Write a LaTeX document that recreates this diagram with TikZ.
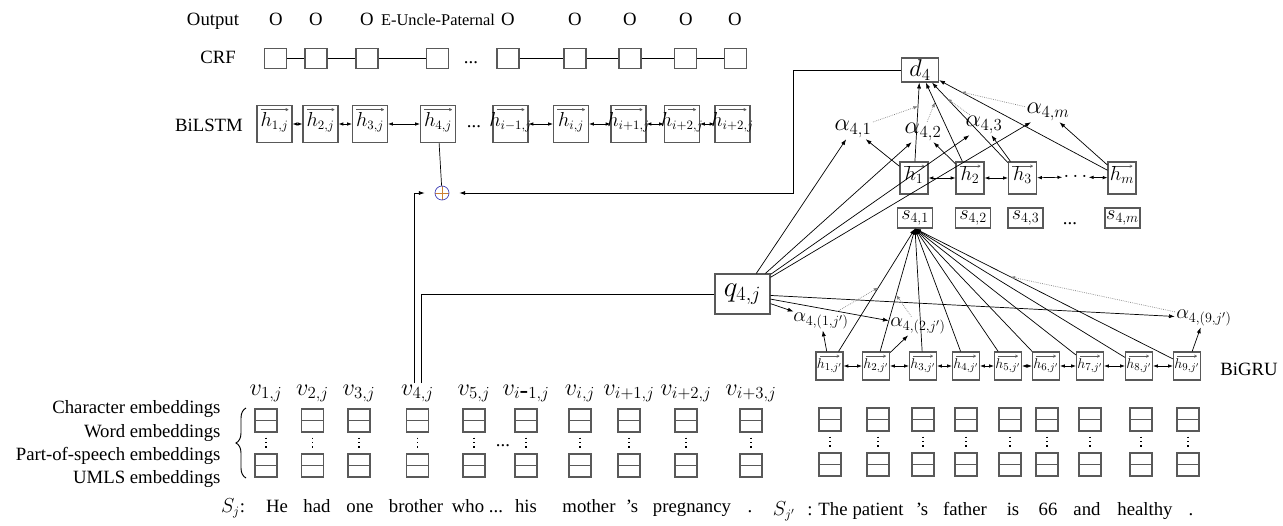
\documentclass[tikz,border=0pt]{standalone}
\usepackage{fontspec}
\setmainfont{Liberation Serif}
\usetikzlibrary{arrows.meta,decorations.pathreplacing}

\newcommand{\vh}[1]{\raisebox{-2pt}[0pt][0pt]{\makebox[0pt]{$h_{#1}$}}}

\tikzstyle{lbl}=[font=\fontsize{16}{19}\selectfont, inner sep=1pt]
\tikzstyle{mlbl}=[font=\fontsize{20}{24}\selectfont, inner sep=1pt]
\tikzstyle{crfbox}=[rectangle,
    line width=1pt,
    minimum width=0.66cm,
    minimum height=0.6cm,
    draw=gray!70!black]
\tikzstyle{lstmbox}=[rectangle,
    line width=1pt,
    inner sep=0pt,
    minimum width=1.05cm,
    minimum height=1.11cm,
    draw=gray!70!black,
    font=\fontsize{16}{19}\selectfont,
    path picture={\draw[-{To[length=2.5pt,width=2.5pt]}, line width=0.5pt]
        ([xshift=3pt,yshift=-3.5pt]path picture bounding box.north west) --
        ([xshift=-3pt,yshift=-3.5pt]path picture bounding box.north east);}]
\tikzstyle{sentbox}=[lstmbox, minimum width=0.84cm, minimum height=0.96cm,
    font=\fontsize{17}{20}\selectfont]
\tikzstyle{grubox}=[lstmbox, minimum width=0.81cm, minimum height=0.84cm,
    font=\fontsize{13}{15}\selectfont]
\tikzstyle{vbox}=[rectangle,
    line width=1pt,
    inner sep=0pt,
    minimum width=1.05cm,
    minimum height=0.6cm,
    draw=gray!70!black,
    font=\fontsize{18}{21}\selectfont]
\tikzstyle{embbox}=[rectangle,
    line width=1pt,
    minimum width=0.66cm,
    minimum height=0.69cm,
    draw=gray!70!black,
    path picture={\draw[gray!70!black, line width=1pt]
        (path picture bounding box.west) -- (path picture bounding box.east);}]
\tikzstyle{arr}=[-{Latex[length=5pt,width=3.5pt]}]
\tikzstyle{dbl}=[{Latex[length=4pt,width=3pt]}-{Latex[length=4pt,width=3pt]}]
\tikzstyle{dotarr}=[densely dotted, gray, -{Latex[length=4pt,width=3pt]}]
\tikzstyle{vdots}=[line width=1.2pt, dash pattern=on 1.2pt off 2.6pt,
    shorten <=0.15cm, shorten >=0.15cm]

\begin{document}
\begin{tikzpicture}[x=0.03cm, y=-0.03cm, line width=0.6pt]
\useasboundingbox (0,0) rectangle (1283,525);

% output row
\node (outlbl) [lbl, anchor=base] at (213,25) {Output};
\node (out1) [lbl, anchor=base] at (276,25) {O};
\node (out2) [lbl, anchor=base] at (316,25) {O};
\node (out3) [lbl, anchor=base] at (367,25) {O};
\node (out4) [lbl, anchor=base, font=\fontsize{14}{17}\selectfont] at (438,25) {E-Uncle-Paternal};
\node (out5) [lbl, anchor=base] at (508,25) {O};
\node (out6) [lbl, anchor=base] at (575,25) {O};
\node (out7) [lbl, anchor=base] at (630,25) {O};
\node (out8) [lbl, anchor=base] at (686,25) {O};
\node (out9) [lbl, anchor=base] at (735,25) {O};

% CRF row
\node (crflbl) [lbl, anchor=base] at (218,63) {CRF};
\node (crf1) [crfbox] at (275.5,58.5) {};
\node (crf2) [crfbox] at (316,58.5) {};
\node (crf3) [crfbox] at (367,58.5) {};
\node (crf4) [crfbox] at (437.5,58.5) {};
\node (crfdots) [lbl, anchor=base] at (471,63) {...};
\node (crf5) [crfbox] at (508,58.5) {};
\node (crf6) [crfbox] at (575,58.5) {};
\node (crf7) [crfbox] at (630,58.5) {};
\node (crf8) [crfbox] at (685.5,58.5) {};
\node (crf9) [crfbox] at (735.5,58.5) {};
\draw (crf1) -- (crf2);
\draw (crf2) -- (crf3);
\draw (crf3) -- (crf4);
\draw (crf5) -- (crf6);
\draw (crf6) -- (crf7);
\draw (crf7) -- (crf8);
\draw (crf8) -- (crf9);

% BiLSTM row
\node (lstmlbl) [lbl, anchor=base] at (209,131) {BiLSTM};
\node (lstm1) [lstmbox] at (274.5,124) {\vh{1,j}};
\node (lstm2) [lstmbox] at (320.5,124) {\vh{2,j}};
\node (lstm3) [lstmbox] at (370,124) {\vh{3,j}};
\node (lstm4) [lstmbox] at (438,124) {\vh{4,j}};
\node (lstmdots) [lbl, anchor=base] at (474,127) {...};
\node (lstm5) [lstmbox] at (510.5,124) {\vh{i-1,j}};
\node (lstm6) [lstmbox] at (571,124) {\vh{i,j}};
\node (lstm7) [lstmbox] at (628.5,124) {\vh{i+1,j}};
\node (lstm8) [lstmbox] at (682,124) {\vh{i+2,j}};
\node (lstm9) [lstmbox] at (732.5,124) {\vh{i+2,j}};
\draw [dbl] (lstm1) -- (lstm2);
\draw [dbl] (lstm2) -- (lstm3);
\draw [dbl] (lstm3) -- (lstm4);
\draw [dbl] (lstm5) -- (lstm6);
\draw [dbl] (lstm6) -- (lstm7);
\draw [dbl] (lstm7) -- (lstm8);
\draw [dbl] (lstm8) -- (lstm9);

% concatenation
\node (plus) [circle, draw=blue!45!gray, inner sep=0pt, minimum size=0.42cm,
    path picture={\draw[orange!60!gray]
        (path picture bounding box.north) -- (path picture bounding box.south)
        (path picture bounding box.west) -- (path picture bounding box.east);}] at (442,193) {};
\draw (lstm4) -- (plus);

% sentence level attention
\node (d4) [vbox, minimum width=1.11cm, minimum height=0.72cm,
    font=\fontsize{20}{24}\selectfont] at (920,70) {$d_4$};
\coordinate (dturn) at (793,70);
\draw [arr, shorten >=0.3cm] (d4.west) -- (dturn) |- (plus.east);

\node (sh1) [sentbox] at (914,178) {\vh{1}};
\node (sh2) [sentbox] at (970,178) {\vh{2}};
\node (sh3) [sentbox] at (1022.5,178) {\vh{3}};
\node (shdots) [mlbl, font=\fontsize{17}{20}\selectfont] at (1075.5,177) {$\cdots$};
\node (shm) [sentbox] at (1122,178) {\vh{m}};
\draw [dbl] (sh1) -- (sh2);
\draw [dbl] (sh2) -- (sh3);
\draw [dbl] (sh3) -- (shdots);
\draw [dbl] (shdots) -- (shm);

\node (s1) [vbox] at (915,218) {$s_{4,1}$};
\node (s2) [vbox] at (973,218) {$s_{4,2}$};
\node (s3) [vbox] at (1025.5,218) {$s_{4,3}$};
\node (sdots) [lbl, anchor=base] at (1070,224) {...};
\node (sm) [vbox] at (1122.5,218) {$s_{4,m}$};

\node (a1) [mlbl] at (853,129) {$\alpha_{4,1}$};
\node (a2) [mlbl] at (923,132) {$\alpha_{4,2}$};
\node (a3) [mlbl] at (984,125) {$\alpha_{4,3}$};
\node (am) [mlbl] at (1048,112) {$\alpha_{4,m}$};

\draw [arr] (sh1) -- (d4) coordinate[pos=0.7] (w1);
\draw [arr] (sh2) -- (d4) coordinate[pos=0.75] (w2);
\draw [arr] (sh3) -- (d4) coordinate[pos=0.8] (w3);
\draw [arr] (shm) -- (d4) coordinate[pos=0.87] (wm);
\draw [arr] (sh1) -- (a1);
\draw [arr] (sh2) -- (a2);
\draw [arr] (sh3) -- (a3);
\draw [arr] (shm) -- (am);
\draw [dotarr] (a1) -- (w1);
\draw [dotarr] (a2) -- (w2);
\draw [dotarr] (a3) -- (w3);
\draw [dotarr] (am) -- (wm);

% query
\node (q4) [vbox, minimum width=1.65cm, minimum height=1.2cm,
    font=\fontsize{24}{28}\selectfont] at (742.5,294) {$q_{4,j}$};
\draw [arr] (q4) -- (a1);
\draw [arr] (q4) -- (a2);
\draw [arr] (q4) -- (a3);
\draw [arr] (q4) -- (am);

% word level attention (BiGRU)
\node (grulbl) [lbl, anchor=base] at (1249,375) {BiGRU};
\node (g1) [grubox] at (829.5,366) {\vh{1,j'}};
\node (g2) [grubox] at (876,366) {\vh{2,j'}};
\node (g3) [grubox] at (923,366) {\vh{3,j'}};
\node (g4) [grubox] at (966,366) {\vh{4,j'}};
\node (g5) [grubox] at (1008,366) {\vh{5,j'}};
\node (g6) [grubox] at (1046,366) {\vh{6,j'}};
\node (g7) [grubox] at (1090,366) {\vh{7,j'}};
\node (g8) [grubox] at (1139,366) {\vh{8,j'}};
\node (g9) [grubox] at (1187,366) {\vh{9,j'}};
\draw [dbl] (g1) -- (g2);
\draw [dbl] (g2) -- (g3);
\draw [dbl] (g3) -- (g4);
\draw [dbl] (g4) -- (g5);
\draw [dbl] (g5) -- (g6);
\draw [dbl] (g6) -- (g7);
\draw [dbl] (g7) -- (g8);
\draw [dbl] (g8) -- (g9);

\node (b1) [mlbl, font=\fontsize{18}{21}\selectfont] at (821,321) {$\alpha_{4,(1,j')}$};
\node (b2) [mlbl, font=\fontsize{18}{21}\selectfont] at (918,326) {$\alpha_{4,(2,j')}$};
\node (b9) [mlbl, font=\fontsize{18}{21}\selectfont] at (1204,318) {$\alpha_{4,(9,j')}$};

\draw [arr] (g1) -- (s1.south) coordinate[pos=0.52] (u1);
\draw [arr] (g2) -- (s1.south) coordinate[pos=0.46] (u2);
\draw [arr] (g3) -- (s1.south);
\draw [arr] (g4) -- (s1.south);
\draw [arr] (g5) -- (s1.south);
\draw [arr] (g6) -- (s1.south);
\draw [arr] (g7) -- (s1.south);
\draw [arr] (g8) -- (s1.south);
\draw [arr] (g9) -- (s1.south) coordinate[pos=0.63] (u9);
\draw [arr] (g1) -- (b1);
\draw [arr] (g2) -- (b2);
\draw [arr] (g9) -- (b9);
\draw [arr] (q4) -- (b1);
\draw [arr] (q4) -- (b2);
\draw [arr] (q4) -- (b9);
\draw [dotarr] (b1) -- (u1);
\draw [dotarr] (b2) -- (u2);
\draw [dotarr] (b9) -- (u9);

% embeddings of S_j
\node (charlbl) [lbl, anchor=base east] at (222,413) {Character embeddings};
\node (wordlbl) [lbl, anchor=base east] at (222,437) {Word embeddings};
\node (poslbl) [lbl, anchor=base east] at (222,460) {Part-of-speech embeddings};
\node (umlslbl) [lbl, anchor=base east] at (222,483) {UMLS embeddings};
\coordinate (brbot) at (246,478);
\coordinate (brtop) at (246,408);
\draw [decorate, decoration={brace, amplitude=0.3cm}, line width=0.8pt] (brbot) -- (brtop);

\foreach \x/\v [count=\i] in {266/1,312.5/2,359/3,417.5/4,474/5,526/{i\mbox{-}1},580/i,629/{i+1},686/{i+2},751/{i+3}} {
    \node (et\i) [embbox] at (\x,420.5) {};
    \node (eb\i) [embbox] at (\x,465.5) {};
    \draw [vdots] (et\i) -- (eb\i);
    \node (v\i) [lbl, anchor=base, font=\fontsize{22}{26}\selectfont] at (\x,395) {$v_{\v,j}$};
}
\node (embdots) [lbl, anchor=base] at (503,446) {...};

\draw [arr, shorten >=0.3cm] ([xshift=-0.09cm]v4.north) |- (plus.west);
\draw ([xshift=0.12cm]v4.north) |- (q4.west);

\node (sj) [lbl, anchor=base] at (233,512) {$S_j$:};
\foreach \x/\w [count=\i] in {277/He,317/had,360/one,416/brother,468/who,526/his,589/mother,632/'s,692/pregnancy,750/.} {
    \node (lw\i) [lbl, anchor=base] at (\x,512) {\w};
}
\node (lwdots) [lbl, anchor=base] at (496,512) {...};

% embeddings of S_j'
\foreach \x [count=\i] in {830,878,923,966,1010,1047,1090,1141,1188} {
    \node (rt\i) [embbox] at (\x,419.5) {};
    \node (rb\i) [embbox] at (\x,464.5) {};
    \draw [vdots] (rt\i) -- (rb\i);
}
\node (sjp) [lbl, anchor=base] at (784,515) {$S_{j'}$};
\node (colon) [lbl, anchor=base] at (810,515) {:};
\foreach \x/\w [count=\i] in {833/The,878/patient,922/'s,965/father,1013/is,1048/66,1087/and,1145/healthy,1191/.} {
    \node (rw\i) [lbl, anchor=base] at (\x,515) {\w};
}

\end{tikzpicture}
\end{document}
